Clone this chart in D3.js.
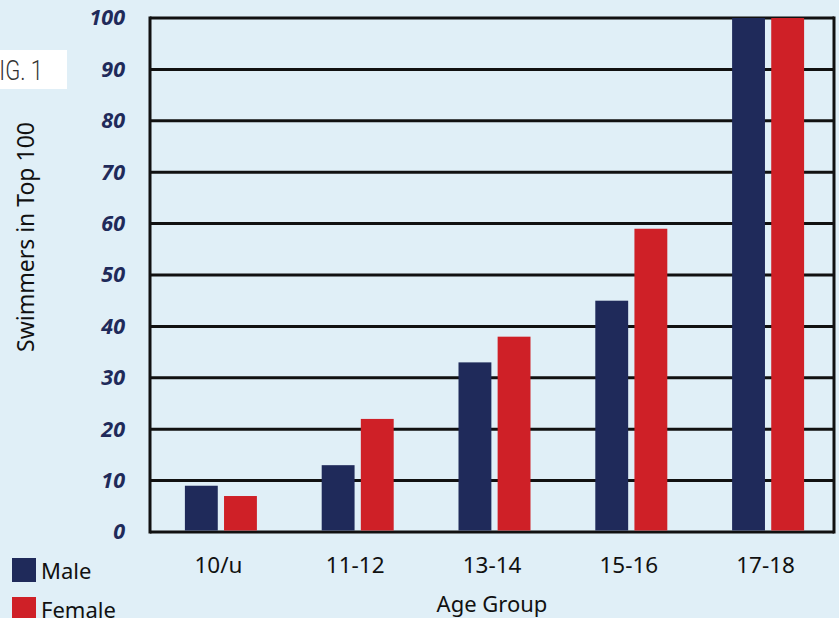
<!DOCTYPE html>
<html>
<head>
<meta charset="utf-8">
<script src="https://cdn.jsdelivr.net/npm/d3@7"></script>
<style>
    body { margin: 0; background: #e0eff7; }
    svg { display: block; }
    .yTick text { font-family: "Open Sans", sans-serif; font-weight: 700; font-style: italic; font-size: 21.5px; fill: #1f2a5a; }
    .xTick text { font-family: "Noto Sans", sans-serif; font-size: 22.5px; fill: #111; }
    .title { font-family: "Noto Sans", sans-serif; font-size: 22px; fill: #111; }
</style>
</head>
<body>
<script>
//Chart data
const ageGroups = ['10/u', '11-12', '13-14', '15-16', '17-18'];
const maleValues = [9, 13, 33, 45, 100];
const femaleValues = [7, 22, 38, 59, 100];
const yTicks = [0, 10, 20, 30, 40, 50, 60, 70, 80, 90, 100];
const seriesNames = ['Male', 'Female'];
const seriesColours = ['#1f2a5a', '#cf2027'];

const width = 839;
const height = 618;
const margin = { top: 18, right: 5, bottom: 86, left: 150 };

const svg = d3.select('body').append('svg')
    .attr('width', width)
    .attr('height', height);

svg.append('rect')
    .attr('width', width)
    .attr('height', height)
    .attr('fill', '#e0eff7');

//Build table from arrays
let data = ageGroups.map((g, i) => ({ group: g, values: [maleValues[i], femaleValues[i]] }));

//Scales
let x = d3.scaleBand()
    .domain(ageGroups)
    .range([margin.left, width - margin.right]);

let x1 = d3.scaleBand()
    .domain(seriesNames)
    .range([x.bandwidth() / 2 - 36, x.bandwidth() / 2 + 36])
    .paddingInner(0.16);

let y = d3.scaleLinear()
    .domain([0, 100])
    .range([height - margin.bottom, margin.top]);

//Gridlines
svg.append('g')
    .selectAll('line')
    .data(yTicks)
    .enter()
    .append('line')
    .attr('x1', margin.left)
    .attr('x2', width - margin.right)
    .attr('y1', d => y(d))
    .attr('y2', d => y(d))
    .attr('stroke', '#111')
    .attr('stroke-width', 3);

//Bars (groups sit a touch right of the label centre)
let groups = svg.selectAll('g.group')
    .data(data)
    .enter()
    .append('g')
    .attr('class', 'group')
    .attr('transform', d => `translate(${x(d.group) + 2.5},0)`);

groups.selectAll('rect')
    .data(d => d.values.map((v, i) => ({ name: seriesNames[i], value: v, colour: seriesColours[i] })))
    .enter()
    .append('rect')
    .attr('x', d => x1(d.name))
    .attr('width', x1.bandwidth())
    .attr('y', d => y(d.value))
    .attr('height', d => y(0) - y(d.value) - 1.5)
    .attr('fill', d => d.colour);

//Frame lines left and right
svg.append('line')
    .attr('x1', margin.left).attr('x2', margin.left)
    .attr('y1', y(100) - 1.5).attr('y2', y(0) + 1.5)
    .attr('stroke', '#111').attr('stroke-width', 3);
svg.append('line')
    .attr('x1', width - margin.right).attr('x2', width - margin.right)
    .attr('y1', y(100) - 1.5).attr('y2', y(0) + 1.5)
    .attr('stroke', '#111').attr('stroke-width', 3);

//Y axis labels
let yAxis = d3.axisLeft(y)
    .tickValues(yTicks)
    .tickSize(0)
    .tickPadding(25);

svg.append('g')
    .attr('class', 'yTick')
    .attr('transform', `translate(${margin.left},0)`)
    .call(yAxis)
    .call(g => g.select('.domain').remove());

//X axis labels
let xAxis = d3.axisBottom(x)
    .tickSize(0)
    .tickPadding(25);

svg.append('g')
    .attr('class', 'xTick')
    .attr('transform', `translate(0,${y(0)})`)
    .call(xAxis)
    .call(g => g.select('.domain').remove());

//Axis titles
svg.append('text')
    .attr('class', 'title')
    .attr('x', (margin.left + width - margin.right) / 2)
    .attr('y', 612)
    .style('text-anchor', 'middle')
    .text('Age Group');

svg.append('text')
    .attr('class', 'title')
    .attr('transform', 'translate(34,237) rotate(-90)')
    .style('text-anchor', 'middle')
    .style('font-size', '23px')
    .text('Swimmers in Top 100');

//Legend
let legend = svg.selectAll('g.legend')
    .data(seriesNames)
    .enter()
    .append('g')
    .attr('class', 'legend')
    .attr('transform', (d, i) => `translate(12,${558 + i * 39})`);

legend.append('rect')
    .attr('width', 24)
    .attr('height', 24)
    .attr('fill', (d, i) => seriesColours[i]);

legend.append('text')
    .attr('class', 'title')
    .attr('x', 29)
    .attr('y', 21)
    .text(d => d);

//Figure tag
svg.append('rect')
    .attr('x', 0)
    .attr('y', 50)
    .attr('width', 67)
    .attr('height', 39)
    .attr('fill', '#ffffff');

svg.append('text')
    .attr('x', -13)
    .attr('y', 80)
    .attr('textLength', 56)
    .attr('lengthAdjust', 'spacingAndGlyphs')
    .style('font-family', 'Roboto, sans-serif')
    .style('font-weight', 300)
    .style('font-size', '28px')
    .style('fill', '#333')
    .text('FIG. 1');
</script>
</body>
</html>
